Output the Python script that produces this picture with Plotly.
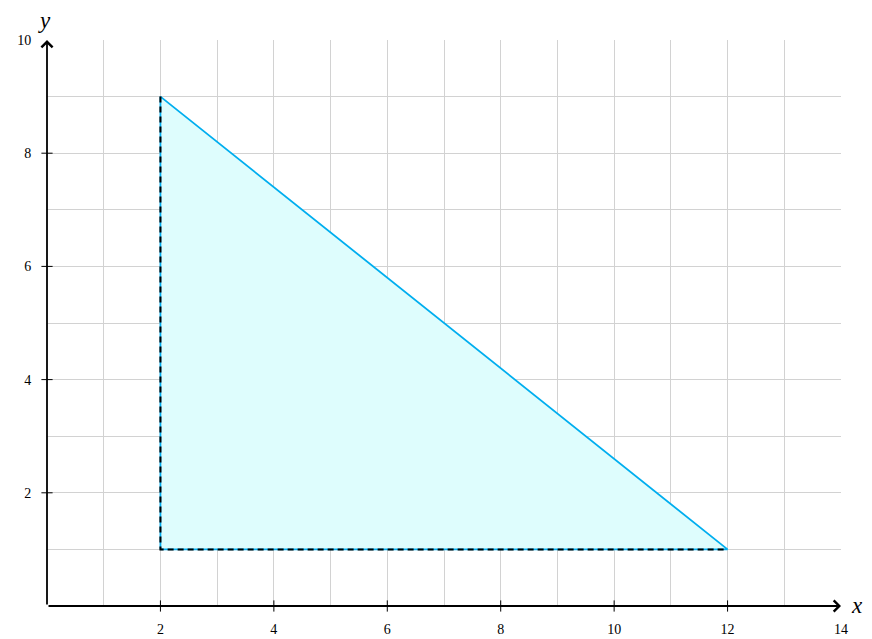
import plotly.graph_objects as go

# Data
tri_x = [2, 2, 12]
tri_y = [1, 9, 1]
x_ticks = [2, 4, 6, 8, 10, 12, 14]
y_ticks = [2, 4, 6, 8, 10]
x_range = [0, 14]
y_range = [0, 10]

CYAN = "rgb(0,174,239)"
FILL = "rgb(222,253,253)"
SERIF = "Liberation Serif, DejaVu Serif, serif"

fig = go.Figure()

# filled triangle with cyan outline
fig.add_trace(go.Scatter(
    x=tri_x + [tri_x[0]], y=tri_y + [tri_y[0]],
    mode="lines", fill="toself", fillcolor=FILL,
    line=dict(color=CYAN, width=1.8), hoverinfo="skip", showlegend=False))

# dashed legs (vertical and horizontal)
fig.add_trace(go.Scatter(
    x=[tri_x[1], tri_x[0], tri_x[2]], y=[tri_y[1], tri_y[0], tri_y[2]],
    mode="lines", line=dict(color="black", width=2, dash="6px,4px"),
    hoverinfo="skip", showlegend=False))

# tick marks crossing the axes
fig.add_trace(go.Scatter(
    x=x_ticks[:-1], y=[0] * (len(x_ticks) - 1), mode="markers",
    marker=dict(symbol="line-ns-open", size=8, color="black",
                line=dict(color="black", width=1)),
    hoverinfo="skip", showlegend=False, cliponaxis=False))
fig.add_trace(go.Scatter(
    x=[0] * (len(y_ticks) - 1), y=y_ticks[:-1], mode="markers",
    marker=dict(symbol="line-ew-open", size=8, color="black",
                line=dict(color="black", width=1)),
    hoverinfo="skip", showlegend=False, cliponaxis=False))

# axes with arrows
for (x0, y0, x1, y1) in [(x_range[0], y_range[0], x_range[1], y_range[0]),
                         (x_range[0], y_range[0], x_range[0], y_range[1])]:
    fig.add_annotation(x=x1, y=y1, ax=x0, ay=y0, xref="x", yref="y",
                       axref="x", ayref="y", text="", showarrow=True,
                       arrowhead=4, arrowsize=1.2, arrowwidth=1.8,
                       arrowcolor="black", standoff=0)

fig.add_annotation(x=x_range[1], y=y_range[0], xref="x", yref="y", text="<i>x</i>",
                   showarrow=False, xanchor="left", xshift=8, yshift=1,
                   font=dict(family=SERIF, size=23, color="black"))
fig.add_annotation(x=x_range[0], y=y_range[1], xref="x", yref="y", text="<i>y</i>",
                   showarrow=False, yanchor="bottom", yshift=5, xshift=-3,
                   font=dict(family=SERIF, size=23, color="black"))

axis_common = dict(showgrid=True, gridcolor="rgb(210,210,210)", gridwidth=1,
                   zeroline=False, showline=False, ticks="outside",
                   tickcolor="rgba(0,0,0,0)", automargin=False,
                   tickfont=dict(family=SERIF, size=14, color="black"),
                   minor=dict(dtick=1, showgrid=True, gridcolor="rgb(210,210,210)", gridwidth=1))

fig.update_layout(
    width=864, height=631,
    margin=dict(l=39, r=31, t=32, b=33),
    plot_bgcolor="white", paper_bgcolor="white",
    xaxis=dict(range=x_range, tickvals=x_ticks, ticktext=[str(v) for v in x_ticks],
               ticklen=10, **axis_common),
    yaxis=dict(range=y_range, tickvals=y_ticks, ticktext=[str(v) for v in y_ticks],
               ticklen=12, **axis_common),
)

fig.write_html("out.html")
